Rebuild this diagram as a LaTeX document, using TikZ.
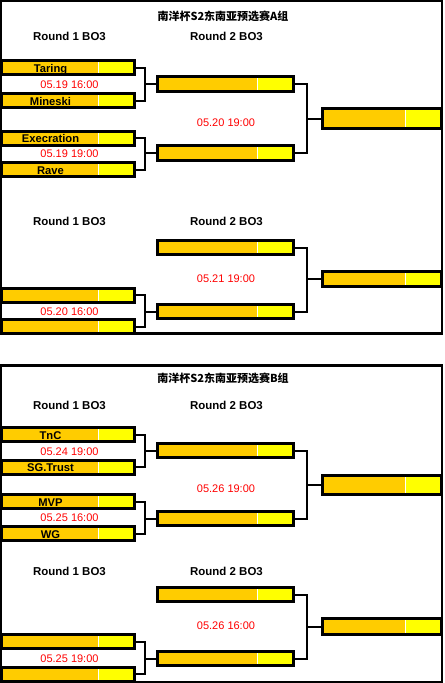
\documentclass[tikz,border=0pt]{standalone}
\usepackage{fontspec}
\setmainfont{Liberation Sans}
\newfontfamily\cjk{Noto Sans CJK SC}
\definecolor{org}{HTML}{FFCC00}
\definecolor{ylw}{HTML}{FFFF00}
\definecolor{dred}{HTML}{FF0000}
\begin{document}
\begin{tikzpicture}[x=0.75pt,y=-0.75pt,
  box/.style={draw=black, line width=2.25pt, fill=org, inner sep=0pt,
    path picture={
      \fill[ylw] ([xshift=-27.375pt]path picture bounding box.north east) rectangle (path picture bounding box.south east);
      \draw[white, line width=0.75pt] ([xshift=-27.375pt]path picture bounding box.north east) -- ([xshift=-27.375pt]path picture bounding box.south east);
    }},
  boxh/.style={minimum height=#1*0.75pt},
  r1box/.style={box, minimum width=99.75pt},
  r2box/.style={box, minimum width=102pt},
  fbox/.style={box, minimum width=89.25pt},
  txt/.style={inner sep=0pt, text height=0.716em, text depth=0pt, anchor=center},
  team/.style={txt, font=\fontsize{8.4pt}{10pt}\selectfont\bfseries},
  rnd/.style={txt, font=\fontsize{8.6pt}{10pt}\selectfont\bfseries},
  date/.style={txt, text=dred, font=\fontsize{8.25pt}{10pt}\selectfont},
  ttl/.style={inner sep=0pt, anchor=center, font=\cjk\fontsize{8.25pt}{10pt}\selectfont\bfseries},
  conn/.style={draw=black, line width=1.5pt},
  frame/.style={draw=black, line width=1.9pt}
]
\useasboundingbox (0,0) rectangle (444,683);
\fill[white] (0,0) rectangle (444,683);
% frames
\draw[frame] (1,1) rectangle (442,333.7);
\draw[frame] (1,365.5) rectangle (442,682);

% ---------------- Group A ----------------
\node[ttl] (titleA) at (223,16) {南洋杯S2东南亚预选赛A组};
\node[rnd] (ra1) at (69.5,36) {Round 1 BO3};
\node[rnd] (ra2) at (226.5,36) {Round 2 BO3};
\node[rnd] (ra3) at (69.5,221) {Round 1 BO3};
\node[rnd] (ra4) at (226.5,221) {Round 2 BO3};

\node[r1box, boxh=14] (a1) at (68,67.5) {};
\node[r1box, boxh=14] (a2) at (68,100.5) {};
\node[r1box, boxh=14] (a3) at (68,138) {};
\node[r1box, boxh=14] (a4) at (68,169.5) {};
\node[r1box, boxh=14] (a5) at (68,295) {};
\node[r1box, boxh=14] (a6) at (68,326.5) {};
\node[team] (ta1) at (50.5,67.5) {Taring};
\node[team] (ta2) at (50.5,100.5) {Mineski};
\node[team] (ta3) at (50.5,138) {Execration};
\node[team] (ta4) at (50.5,169.5) {Rave};

\node[r2box, boxh=15] (r2a) at (225.5,84) {};
\node[r2box, boxh=15] (r2b) at (225.5,153) {};
\node[r2box, boxh=14] (r2c) at (225.5,247.5) {};
\node[r2box, boxh=14] (r2d) at (225.5,311.5) {};

\node[fbox, boxh=20] (fa) at (382,118.5) {};
\node[fbox, boxh=15] (fb) at (382,279) {};

\node[date] (da1) at (69.5,83.5) {05.19 16:00};
\node[date] (da2) at (69.5,152.5) {05.19 19:00};
\node[date] (da3) at (69.5,311) {05.20 16:00};
\node[date] (da4) at (226,121.5) {05.20 19:00};
\node[date] (da5) at (226,277.7) {05.21 19:00};

\draw[conn] (a1.east) -- ++(9,0) |- (a2.east);
\draw[conn] (r2a.west) -- ++(-11,0);
\draw[conn] (a3.east) -- ++(9,0) |- (a4.east);
\draw[conn] (r2b.west) -- ++(-11,0);
\draw[conn] (a5.east) -- ++(9,0) |- (a6.east);
\draw[conn] (r2d.west) -- ++(-11,0);
\draw[conn] (r2a.east) -- ++(12,0) |- (r2b.east);
\draw[conn] (fa.west) -- ++(-14,0);
\draw[conn] (r2c.east) -- ++(12,0) |- (r2d.east);
\draw[conn] (fb.west) -- ++(-14,0);

% ---------------- Group B ----------------
\node[ttl] (titleB) at (223,378.5) {南洋杯S2东南亚预选赛B组};
\node[rnd] (rb1) at (69.5,404.5) {Round 1 BO3};
\node[rnd] (rb2) at (226.5,404.5) {Round 2 BO3};
\node[rnd] (rb3) at (69.5,571) {Round 1 BO3};
\node[rnd] (rb4) at (226.5,571) {Round 2 BO3};

\node[r1box, boxh=14] (b1) at (68,434.5) {};
\node[r1box, boxh=14] (b2) at (68,467) {};
\node[r1box, boxh=14] (b3) at (68,501.5) {};
\node[r1box, boxh=14] (b4) at (68,533.5) {};
\node[r1box, boxh=14] (b5) at (68,641.5) {};
\node[r1box, boxh=14] (b6) at (68,674) {};
\node[team] (tb1) at (50.5,434.5) {TnC};
\node[team] (tb2) at (50.5,467) {SG.Trust};
\node[team] (tb3) at (50.5,501.5) {MVP};
\node[team] (tb4) at (50.5,533.5) {WG};

\node[r2box, boxh=14] (r2e) at (225.5,450.5) {};
\node[r2box, boxh=14] (r2f) at (225.5,518.5) {};
\node[r2box, boxh=14] (r2g) at (225.5,594.5) {};
\node[r2box, boxh=14] (r2h) at (225.5,658.5) {};

\node[fbox, boxh=19] (fc) at (382,485) {};
\node[fbox, boxh=16] (fd) at (382,626.5) {};

\node[date] (db1) at (69.5,450.7) {05.24 19:00};
\node[date] (db2) at (69.5,516.7) {05.25 16:00};
\node[date] (db3) at (69.5,657.7) {05.25 19:00};
\node[date] (db4) at (226,488) {05.26 19:00};
\node[date] (db5) at (226,624.3) {05.26 16:00};

\draw[conn] (b1.east) -- ++(9,0) |- (b2.east);
\draw[conn] (r2e.west) -- ++(-11,0);
\draw[conn] (b3.east) -- ++(9,0) |- (b4.east);
\draw[conn] (r2f.west) -- ++(-11,0);
\draw[conn] (b5.east) -- ++(9,0) |- (b6.east);
\draw[conn] (r2h.west) -- ++(-11,0);
\draw[conn] (r2e.east) -- ++(12,0) |- (r2f.east);
\draw[conn] (fc.west) -- ++(-14,0);
\draw[conn] (r2g.east) -- ++(12,0) |- (r2h.east);
\draw[conn] (fd.west) -- ++(-14,0);
\end{tikzpicture}
\end{document}
